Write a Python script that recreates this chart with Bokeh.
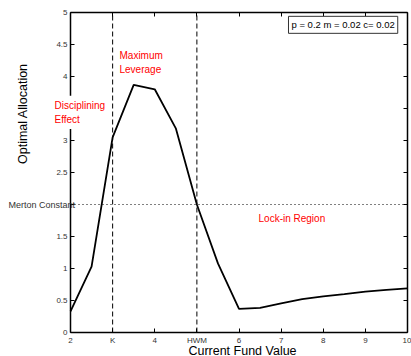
import math
from bokeh.plotting import figure
from bokeh.models import Label, LinearAxis, FixedTicker, Range1d
from bokeh.embed import file_html
from bokeh.resources import INLINE

fund_value = [2, 2.5, 3, 3.5, 4, 4.5, 5, 5.5, 6, 6.5, 7, 7.5, 8, 8.5, 9, 9.5, 10]
allocation = [0.33, 1.03, 3.05, 3.87, 3.80, 3.19, 2.0, 1.08, 0.37, 0.385, 0.455,
              0.52, 0.565, 0.60, 0.64, 0.665, 0.69]
x_ticks = [2, 3, 4, 5, 6, 7, 8, 9, 10]
x_tick_labels = ["2", "K", "4", "HWM", "6", "7", "8", "9", "10"]
y_ticks = [0, 0.5, 1, 1.5, 2, 2.5, 3, 3.5, 4, 4.5, 5]
y_tick_labels = ["0", "0.5", "1", "1.5", "", "2.5", "3", "", "4", "4.5", "5"]
x_min, x_max = 2, 10
y_min, y_max = 0, 5
K = 3
HWM = 5
merton = 2.0

FONT = "Liberation Sans"
RED = "#ff0000"
W, H = 411, 356
# pixel placement of the axes box inside the canvas
L_PX, R_PX, T_PX, B_PX = 70, 407, 12, 332
sx = (R_PX - L_PX) / (x_max - x_min)
sy = (B_PX - T_PX) / (y_max - y_min)

p = figure(width=W, height=H, output_backend="svg", toolbar_location=None,
           x_range=Range1d(x_min - L_PX / sx, x_max + (W - R_PX) / sx),
           y_range=Range1d(y_min - (H - B_PX) / sy, y_max + T_PX / sy),
           x_axis_location=None, y_axis_location=None, min_border=0)
p.grid.visible = False
p.outline_line_color = None
p.background_fill_color = "white"
p.border_fill_color = "white"


def make_axis(loc, ticks, labels=None, bounds=None):
    if labels is not None:
        ticker = FixedTicker(ticks=ticks)
    else:
        ticker = FixedTicker(ticks=[], minor_ticks=ticks)
    ax = LinearAxis(ticker=ticker, fixed_location=loc, bounds=bounds)
    ax.axis_line_color = "black"
    ax.axis_line_width = 1.5
    ax.major_tick_in = 4
    ax.major_tick_out = 0
    ax.major_tick_line_color = "black"
    ax.minor_tick_in = 4
    ax.minor_tick_out = 0
    ax.minor_tick_line_color = "black" if labels is None else None
    if labels is not None:
        ax.major_label_overrides = {t: l for t, l in zip(ticks, labels)}
        ax.major_label_text_font = FONT
        ax.major_label_text_font_size = "8px"
        ax.major_label_text_color = "#333333"
        ax.major_label_standoff = 3
    return ax


p.add_layout(make_axis(y_min, x_ticks, x_tick_labels, (x_min, x_max)), "below")
p.add_layout(make_axis(x_min, y_ticks, y_tick_labels, (y_min, y_max)), "left")
p.add_layout(make_axis(y_max, x_ticks, None, (x_min, x_max)), "above")
p.add_layout(make_axis(x_max, y_ticks, None, (y_min, y_max)), "right")

p.segment(x0=[K, HWM], y0=[y_min, y_min], x1=[K, HWM], y1=[y_max, y_max],
          line_color="black", line_width=1, line_dash="5 3")
p.segment(x0=[x_min], y0=[merton], x1=[x_max], y1=[merton],
          line_color="black", line_width=1, line_dash="1 3")

p.line(fund_value, allocation, line_color="black", line_width=1.8)

p.add_layout(Label(x=x_min, y=merton, x_offset=-62, text="Merton Constant", text_align="left",
                   text_baseline="middle", text_font=FONT, text_font_size="9px",
                   text_color="#333333"))
p.add_layout(Label(x=x_min, y=3.42, x_offset=-48, angle=math.pi / 2, text="Optimal Allocation",
                   text_align="center", text_baseline="middle", text_font=FONT,
                   text_font_size="12.5px", text_color="black"))
p.add_layout(Label(x=6.083, y=y_min, y_offset=-18, text="Current Fund Value", text_align="center",
                   text_baseline="middle", text_font=FONT, text_font_size="12.5px",
                   text_color="black"))

p.add_layout(Label(x=3.163, y=4.42, text="Maximum\nLeverage", text_align="left",
                   text_baseline="top", text_font=FONT, text_font_size="10px",
                   text_line_height=1.3, text_color=RED))
p.add_layout(Label(x=1.525, y=3.70, text="Disciplining\nEffect", text_align="left",
                   text_baseline="top", text_font=FONT, text_font_size="10px",
                   text_line_height=1.3, text_color=RED,
                   background_fill_color="white", padding=4))
p.add_layout(Label(x=6.463, y=1.78, text="Lock-in Region", text_align="left",
                   text_baseline="middle", text_font=FONT, text_font_size="10px",
                   text_color=RED))
p.add_layout(Label(x=7.175, y=4.94, text="p = 0.2 m = 0.02 c= 0.02", text_align="left",
                   text_baseline="top", text_font=FONT, text_font_size="9.5px",
                   text_color="black", background_fill_color="white",
                   border_line_color="#333333", border_line_width=1, padding=3))

open("out.html", "w").write(file_html(p, INLINE))
